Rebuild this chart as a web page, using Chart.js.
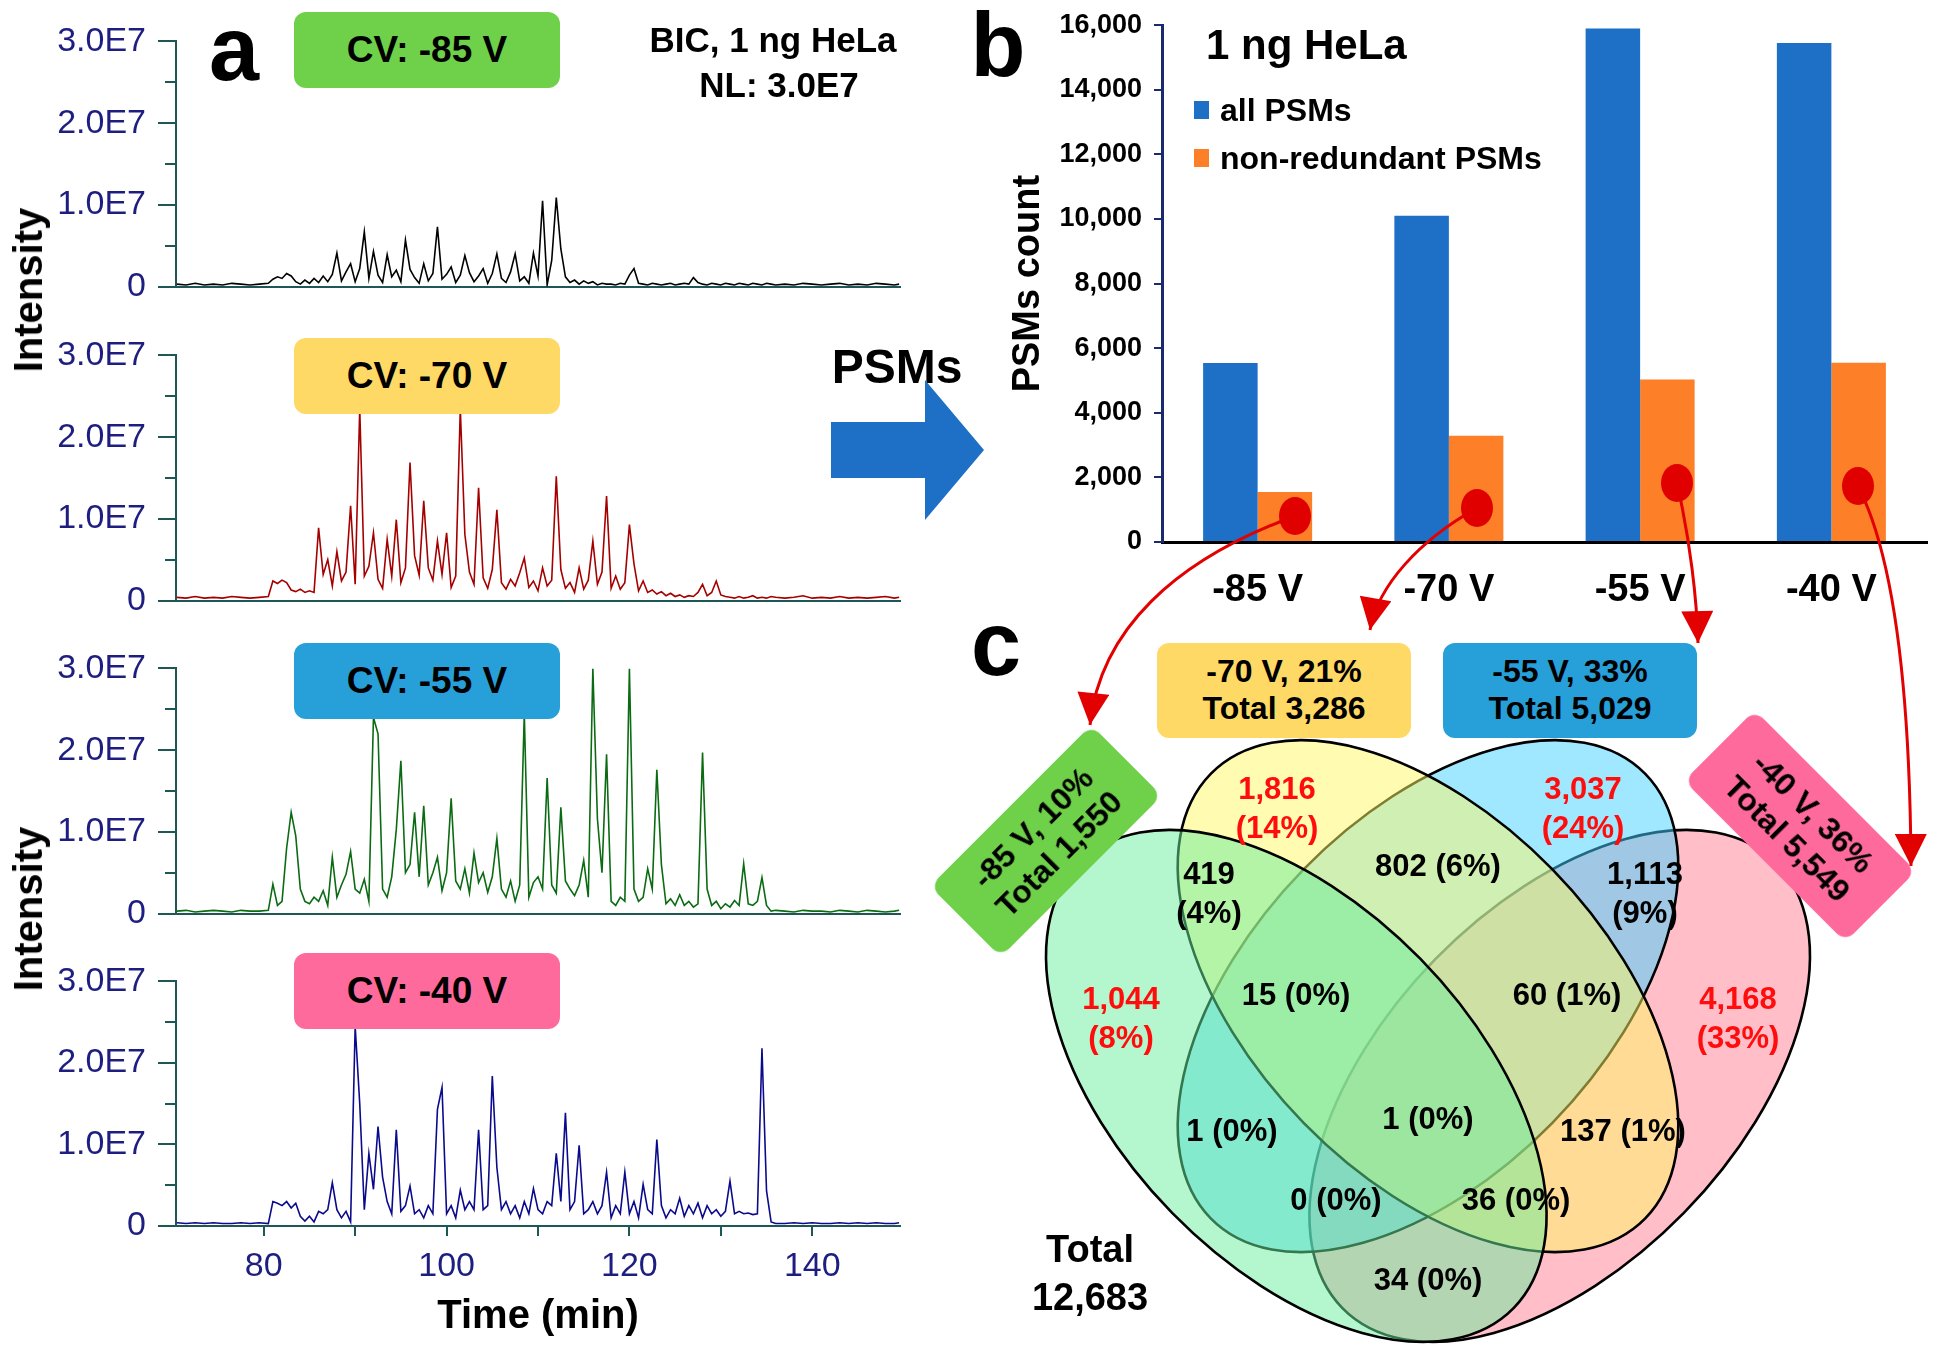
<!DOCTYPE html>
<html>
<head>
<meta charset="utf-8">
<script src="https://cdn.jsdelivr.net/npm/chart.js@4.4.1/dist/chart.umd.min.js"></script>
<style>
html,body{margin:0;padding:0;background:#fff;}
#page{position:relative;width:1939px;height:1350px;overflow:hidden;background:#fff;font-family:"Liberation Sans",Arial,Helvetica,sans-serif;}
#page canvas{position:absolute;}
.t{position:absolute;white-space:nowrap;font-weight:bold;color:#000;text-align:center;line-height:1.15;}
.box{position:absolute;display:flex;flex-direction:column;align-items:center;justify-content:center;text-align:center;font-weight:bold;border-radius:12px;line-height:1.15;color:#000;white-space:nowrap;}
#ov{position:absolute;left:0;top:0;pointer-events:none;}
</style>
</head>
<body>
<div id="page">
  <canvas id="tr0"></canvas>
  <canvas id="tr1"></canvas>
  <canvas id="tr2"></canvas>
  <canvas id="tr3"></canvas>
  <canvas id="bar"></canvas>
  <canvas id="venn"></canvas>
</div>
<script>
// ---------------- DATA ----------------
// retention time grid (min)
const timeMin = [
 70.5,71.5,72.5,73.5,74.5,75.5,76.5,77.5,78.5,79.5,80.5,
 81,81.5,82,82.5,83,83.5,84,84.5,85,85.5,86,86.5,87,87.5,88,88.5,89,89.5,90,90.5,
 91,91.5,92,92.5,93,93.5,94,94.5,95,95.5,96,96.5,97,97.5,98,98.5,99,99.5,100,100.5,
 101,101.5,102,102.5,103,103.5,104,104.5,105,105.5,106,106.5,107,107.5,108,108.5,109,109.5,110,110.5,
 111,111.5,112,112.5,113,113.5,114,114.5,115,115.5,116,116.5,117,117.5,118,118.5,119,119.5,120,120.5,
 121,121.5,122,122.5,123,123.5,124,124.5,125,125.5,126,126.5,127,127.5,128,128.5,129,129.5,130,130.5,
 131,131.5,132,132.5,133,133.5,134,134.5,135,135.5,136,
 137,138,139,140,141,142,143,144,145,146,147,148,149,149.5
];
// base peak intensity, in units of 1E6
const intensityCV85 = [
 0.3,0.2,0.4,0.2,0.3,0.2,0.4,0.3,0.2,0.3,0.4,
 0.9,1.2,1.0,1.6,1.3,0.6,0.3,0.8,0.4,1.0, 0.5,1.3,0.6,1.5,4.1,0.7,1.8,2.8,0.6,2.2,
 6.7,1.0,4.3,1.4,0.5,3.9,1.2,2.0,0.6,5.7, 2.1,1.1,0.4,2.8,0.7,1.6,7.3,0.9,1.5,2.4,
 0.5,1.4,3.8,1.7,0.6,1.3,2.2,0.4,1.6,4.0, 1.0,0.5,1.8,4.0,0.7,1.2,0.4,4.1,1.3,10.5,
 0.2,3.2,10.9,4.6,1.2,0.5,0.8,0.3,0.7,0.4, 0.6,0.2,0.4,0.3,0.3,0.2,0.4,0.3,1.4,2.2,
 0.4,0.3,0.2,0.4,0.3,0.2,0.3,0.4,0.2,0.3, 0.4,0.3,1.1,0.5,0.3,0.2,0.4,0.3,0.2,0.4,
 0.3,0.2,0.4,0.3,0.2,0.4,0.3,0.2,0.4,0.3,0.2,
 0.3,0.2,0.4,0.3,0.2,0.3,0.4,0.2,0.3,0.2,0.4,0.3,0.2,0.3
];
const intensityCV70 = [
 0.4,0.3,0.5,0.3,0.4,0.3,0.5,0.4,0.3,0.4,0.5,
 2.4,2.1,2.5,2.2,1.3,1.1,1.4,1.0,1.2,1.0, 8.9,3.2,5.0,1.8,6.0,2.4,3.5,11.6,2.0,23.5,
 3.0,4.2,8.3,2.6,1.5,7.5,3.0,9.9,2.2,4.0, 16.9,5.5,3.1,12.2,4.0,2.5,7.3,3.2,8.3,1.6,
 3.0,23.5,8.1,3.5,2.0,13.8,2.8,1.5,3.8,11.1, 2.2,1.4,2.6,1.8,3.4,5.2,1.6,2.4,1.2,4.0,
 1.8,2.5,15.2,3.8,1.5,2.2,1.0,4.0,1.4,2.5, 7.3,2.0,3.5,12.8,1.5,3.0,1.4,2.2,9.3,4.5,
 1.2,2.4,1.0,1.3,0.8,1.1,0.6,0.9,0.5,0.7, 0.4,0.6,0.5,1.0,2.0,0.6,1.0,2.4,0.7,0.5,
 0.4,0.3,0.5,0.3,0.4,0.6,0.3,0.4,0.3,0.5,0.4,
 0.3,0.4,0.6,0.3,0.4,0.3,0.5,0.3,0.4,0.3,0.4,0.5,0.3,0.4
];
const intensityCV55 = [
 0.3,0.4,0.2,0.3,0.4,0.3,0.2,0.4,0.3,0.3,0.4,
 3.6,1.0,1.5,8.0,12.4,9.5,3.0,1.5,1.2,2.0, 1.5,2.8,1.0,6.9,2.0,3.5,4.8,7.6,3.0,2.5,
 4.2,1.5,24.0,22.0,3.0,2.0,4.5,10.3,18.7,5.0, 6.0,12.4,4.5,13.2,3.5,5.0,6.9,2.8,5.0,14.1,
 4.0,3.0,5.5,2.5,7.4,3.8,5.0,2.6,4.5,9.2, 3.0,2.0,4.0,1.5,3.5,24.5,2.0,3.8,4.5,3.0,
 16.6,3.5,2.5,13.0,4.0,3.0,2.2,3.5,6.5,2.0, 30.0,11.6,5.0,19.5,1.5,1.0,2.0,1.5,30.0,3.0,
 1.5,2.0,5.5,3.0,17.6,6.0,1.2,1.8,1.0,2.3, 1.0,1.5,0.8,1.2,19.7,3.0,1.0,1.5,0.6,1.2,
 0.8,1.6,1.0,6.1,1.2,1.0,1.5,4.4,1.0,0.3,0.4,
 0.3,0.2,0.4,0.3,0.3,0.2,0.4,0.3,0.2,0.4,0.3,0.2,0.3,0.4
];
const intensityCV40 = [
 0.4,0.3,0.4,0.3,0.4,0.3,0.3,0.4,0.3,0.4,0.3,
 3.0,2.8,2.5,3.0,2.2,2.8,1.2,0.6,1.2,0.5, 1.8,1.5,2.0,5.3,2.0,1.0,1.8,0.5,24.5,15.0,
 2.0,8.9,4.5,12.2,6.0,3.0,1.5,11.8,1.8,2.5, 4.9,1.5,2.0,1.0,2.5,1.5,14.3,17.0,1.5,2.5,
 1.0,4.4,2.0,3.0,2.0,11.8,2.0,2.5,18.4,7.2, 2.0,3.0,1.5,2.5,1.0,3.0,1.5,4.6,2.0,1.5,
 3.0,2.5,8.9,3.0,13.9,2.0,3.0,9.9,1.5,2.0, 3.0,1.5,2.5,6.6,1.0,2.5,1.5,6.6,1.5,3.0,
 1.0,5.1,2.0,1.5,10.6,2.5,1.0,2.0,1.5,3.4, 1.2,2.5,1.5,2.8,1.0,2.5,1.5,2.0,1.2,1.8,
 5.5,1.5,1.8,1.5,1.6,1.4,1.5,21.8,4.3,0.5,0.3,
 0.3,0.4,0.3,0.4,0.3,0.3,0.4,0.3,0.4,0.3,0.4,0.3,0.3,0.4
];
const intensityTickValues = [0, 10, 20, 30];
const intensityTickLabels = ['0', '1.0E7', '2.0E7', '3.0E7'];
const intensityMinorTicks = [5, 15, 25];
const timeTickValues = [80, 90, 100, 110, 120, 130, 140];
const timeTickLabels = ['80', '', '100', '', '120', '', '140'];

// panel b
const cvLabels = ['-85 V', '-70 V', '-55 V', '-40 V'];
const seriesNames = ['all PSMs', 'non-redundant PSMs'];
const allPSMs = [5540, 10100, 15900, 15450];
const nonRedundantPSMs = [1550, 3286, 5029, 5549];
const psmTickValues = [0, 2000, 4000, 6000, 8000, 10000, 12000, 14000, 16000];
const psmTickLabels = ['0', '2,000', '4,000', '6,000', '8,000', '10,000', '12,000', '14,000', '16,000'];

// panel c (Venn)
const vennSetPercent = [10, 21, 33, 36];
const vennSetTotals = [1550, 3286, 5029, 5549];
const vennRegionCounts = [1044, 1816, 3037, 4168, 419, 802, 1113, 15, 60, 1, 1, 137, 0, 36, 34];
const vennRegionPercent = [8, 14, 24, 33, 4, 6, 9, 0, 1, 0, 0, 1, 0, 0, 0];
const vennTotal = 12683;

// ---------------- LAYOUT / STYLE ----------------
const FONT = '"Liberation Sans", Arial, Helvetica, sans-serif';
Chart.defaults.font.family = FONT;
Chart.defaults.animation = false;
const TEAL = '#1e5856';
const TICKTXT = '#1e1e80';
const traceColors = ['#000000', '#a50000', '#0b6b12', '#0a0a8c'];
const traceTops = [41, 355, 668, 981];   // pixel of 3.0E7 on each panel
const tracePlotH = 245;
const cvBoxColors = ['#6fd04a', '#ffd966', '#27a0da', '#ff6a9c'];
const cvBoxTops = [12, 338, 643, 953];
const BLUE = '#1e6fc6';
const ORANGE = '#fd7f28';
const NAVY = '#1b2a6e';

const page = document.getElementById('page');

// build a chart, then rebuild it so that its plot area lands exactly on the wanted box
function placeChart(cv, makeConfig, box) {
  cv.width = box.w0; cv.height = box.h0;
  let ch = new Chart(cv, makeConfig());
  const ca = ch.chartArea;
  const offT = ca.top, offB = box.h0 - ca.bottom, offL = ca.left, offR = box.w0 - ca.right;
  ch.destroy();
  cv.width = Math.round(offL + (box.right - box.left) + offR);
  cv.height = Math.round(offT + (box.bottom - box.top) + offB);
  ch = new Chart(cv, makeConfig());
  cv.style.left = Math.round(box.left - ch.chartArea.left) + 'px';
  cv.style.top = Math.round(box.top - ch.chartArea.top) + 'px';
  return ch;
}

const minorTickPlugin = {
  id: 'minorTicks',
  afterDraw(chart) {
    const y = chart.scales.y, ctx = chart.ctx;
    ctx.save(); ctx.strokeStyle = TEAL; ctx.lineWidth = 2;
    intensityMinorTicks.forEach(v => {
      const py = Math.round(y.getPixelForValue(v));
      ctx.beginPath(); ctx.moveTo(y.right - 11, py); ctx.lineTo(y.right, py); ctx.stroke();
    });
    ctx.restore();
  }
};

const traces = [intensityCV85, intensityCV70, intensityCV55, intensityCV40];
traces.forEach((vals, idx) => {
  const isLast = idx === 3;
  const xh = isLast ? 115 : 22;
  const cfg = () => ({
    type: 'line',
    data: { datasets: [{
      data: timeMin.map((t, i) => ({ x: t, y: vals[i] })),
      borderColor: traceColors[idx], borderWidth: 1.6, pointRadius: 0, fill: false, tension: 0
    }] },
    options: {
      responsive: false, maintainAspectRatio: false, animation: false,
      layout: { padding: { top: 0, right: 30, left: 0, bottom: 0 } },
      plugins: { legend: { display: false }, tooltip: { enabled: false } },
      scales: {
        x: {
          type: 'linear', min: 70.4, max: 149.6,
          afterFit: s => { s.height = xh; },
          afterBuildTicks: s => { s.ticks = timeTickValues.map(v => ({ value: v })); },
          ticks: { display: isLast, autoSkip: false, maxRotation: 0, font: { size: 34 }, color: TICKTXT, padding: 10,
                   callback: (v, i) => timeTickLabels[i] },
          grid: { drawOnChartArea: false, drawTicks: isLast, tickLength: 10, color: TEAL, lineWidth: 2 },
          border: { display: true, color: TEAL, width: 2 },
          title: { display: isLast, text: 'Time (min)', font: { size: 40, weight: 'bold' }, color: '#000', padding: 0 }
        },
        y: {
          min: 0, max: 30,
          afterFit: s => { s.width = 176; },
          afterBuildTicks: s => { s.ticks = intensityTickValues.map(v => ({ value: v })); },
          ticks: { autoSkip: false, font: { size: 34 }, color: TICKTXT, padding: 12,
                   callback: (v, i) => intensityTickLabels[i] },
          grid: { drawOnChartArea: false, tickLength: 18, color: TEAL, lineWidth: 2 },
          border: { color: TEAL, width: 2 }
        }
      }
    },
    plugins: [minorTickPlugin]
  });
  placeChart(document.getElementById('tr' + idx), cfg,
    { w0: 930, h0: 330 + xh, left: 176, right: 900, top: traceTops[idx], bottom: traceTops[idx] + tracePlotH });
});

// ---------- bar chart ----------
placeChart(document.getElementById('bar'), () => ({
  type: 'bar',
  data: {
    labels: cvLabels,
    datasets: [
      { label: seriesNames[0], data: allPSMs, backgroundColor: BLUE, borderWidth: 0 },
      { label: seriesNames[1], data: nonRedundantPSMs, backgroundColor: ORANGE, borderWidth: 0 }
    ]
  },
  options: {
    responsive: false, maintainAspectRatio: false, animation: false,
    datasets: { bar: { categoryPercentage: 0.57, barPercentage: 1.0 } },
    layout: { padding: { top: 0, right: 12, left: 0, bottom: 0 } },
    plugins: { legend: { display: false }, tooltip: { enabled: false } },
    scales: {
      x: {
        afterFit: s => { s.height = 80; },
        ticks: { font: { size: 38, weight: 'bold' }, color: '#000', padding: 26 },
        grid: { drawOnChartArea: false, drawTicks: false, color: 'rgba(0,0,0,0)' },
        border: { display: true, color: '#000', width: 3 }
      },
      y: {
        min: 0, max: 16000,
        afterFit: s => { s.width = 156; },
        afterBuildTicks: s => { s.ticks = psmTickValues.map(v => ({ value: v })); },
        ticks: { autoSkip: false, font: { size: 27, weight: 'bold' }, color: '#000', padding: 12,
                 callback: (v, i) => psmTickLabels[i] },
        grid: { drawOnChartArea: false, tickLength: 8, color: NAVY, lineWidth: 2 },
        border: { color: NAVY, width: 3 },
        title: { display: true, text: 'PSMs count', font: { size: 38, weight: 'bold' }, color: '#000', padding: 0 }
      }
    }
  }
}), { w0: 933, h0: 620, left: 1162, right: 1927, top: 25, bottom: 542 });

// ---------- Venn chart ----------
const VENN = { x0: 989, sx: 878, y0: 610, sy: 898, left: 960, top: 600, w: 979, h: 750 };
const vennShapes = [ // drawn in this order; strokeNow = outline drawn before later fills
  { key: 'D', cx: 0.65, cy: 0.53, a: 0.35, b: 0.2, rot: -Math.PI / 4, fill: 'rgba(255,125,145,0.5)', strokeNow: true },
  { key: 'C', cx: 0.50, cy: 0.43, a: 0.35, b: 0.2, rot: -Math.PI / 4, fill: 'rgba(65,209,255,0.5)', strokeNow: true },
  { key: 'B', cx: 0.50, cy: 0.43, a: 0.35, b: 0.2, rot: Math.PI / 4, fill: 'rgba(255,249,101,0.5)', strokeNow: true },
  { key: 'A', cx: 0.35, cy: 0.53, a: 0.35, b: 0.2, rot: Math.PI / 4, fill: 'rgba(105,237,155,0.5)', strokeNow: false }
];
const vennPlugin = {
  id: 'vennEllipses',
  afterDraw(chart) {
    const xs = chart.scales.x, ys = chart.scales.y, ctx = chart.ctx;
    const ox = xs.getPixelForValue(0), oy = ys.getPixelForValue(0);
    const kx = xs.getPixelForValue(1) - ox, ky = ys.getPixelForValue(1) - oy;
    const path = e => {
      ctx.save(); ctx.translate(ox, oy); ctx.scale(kx, ky);
      ctx.beginPath(); ctx.ellipse(e.cx, e.cy, e.a, e.b, e.rot, 0, Math.PI * 2);
      ctx.restore();
    };
    ctx.save();
    ctx.lineWidth = 2.6; ctx.strokeStyle = '#000';
    vennShapes.forEach(e => {
      path(e); ctx.fillStyle = e.fill; ctx.fill();
      if (e.strokeNow) ctx.stroke();
    });
    vennShapes.forEach(e => { if (!e.strokeNow) { path(e); ctx.stroke(); } });
    ctx.restore();
  }
};
(function () {
  const cv = document.getElementById('venn');
  cv.width = VENN.w; cv.height = VENN.h;
  cv.style.left = VENN.left + 'px'; cv.style.top = VENN.top + 'px';
  new Chart(cv, {
    type: 'scatter',
    data: { datasets: [] },
    options: {
      responsive: false, maintainAspectRatio: false, animation: false,
      layout: { padding: 0 },
      plugins: { legend: { display: false }, tooltip: { enabled: false } },
      scales: {
        x: { type: 'linear', display: false, min: (VENN.left - VENN.x0) / VENN.sx, max: (VENN.left + VENN.w - VENN.x0) / VENN.sx },
        y: { type: 'linear', display: false, reverse: true, min: (VENN.top - VENN.y0) / VENN.sy, max: (VENN.top + VENN.h - VENN.y0) / VENN.sy }
      }
    },
    plugins: [vennPlugin]
  });
})();

// ---------------- TEXT / ANNOTATIONS ----------------
function addText(lines, x, y, size, opts) {
  opts = opts || {};
  const d = document.createElement('div');
  d.className = 't';
  lines.forEach((ln, i) => { if (i) d.appendChild(document.createElement('br')); d.appendChild(document.createTextNode(ln)); });
  d.style.left = x + 'px'; d.style.top = y + 'px';
  d.style.fontSize = size + 'px';
  if (opts.color) d.style.color = opts.color;
  if (opts.lh) d.style.lineHeight = opts.lh;
  const rot = opts.rotate ? ` rotate(${opts.rotate}deg)` : '';
  d.style.transform = (opts.left ? 'translate(0,-50%)' : 'translate(-50%,-50%)') + rot;
  page.appendChild(d);
  return d;
}
function addBox(lines, cx, cy, w, h, bg, size, rot) {
  const d = document.createElement('div');
  d.className = 'box';
  lines.forEach(ln => { const s = document.createElement('div'); s.textContent = ln; d.appendChild(s); });
  d.style.left = (cx - w / 2) + 'px'; d.style.top = (cy - h / 2) + 'px';
  d.style.width = w + 'px'; d.style.height = h + 'px';
  d.style.background = bg; d.style.fontSize = size + 'px';
  if (rot) d.style.transform = `rotate(${rot}deg)`;
  page.appendChild(d);
}
const fmt = n => n.toLocaleString('en-US');

// panel letters
addText(['a'], 234, 50, 90);
addText(['b'], 998, 46, 90);
addText(['c'], 996, 645, 90);

// panel a annotations
cvLabels.forEach((lab, i) => addBox(['CV: ' + lab], 427, cvBoxTops[i] + 38, 266, 76, cvBoxColors[i], 37));
addText(['BIC, 1 ng HeLa'], 773, 40, 35);
addText(['NL: 3.0E7'], 779, 85, 35);
addText(['Intensity'], 28, 290, 40, { rotate: -90 });
addText(['Intensity'], 28, 909, 40, { rotate: -90 });

// panel b annotations
addText(['1 ng HeLa'], 1206, 45, 42, { left: true });
[BLUE, ORANGE].forEach((c, i) => {
  const sq = document.createElement('div');
  sq.style.cssText = `position:absolute;left:1194px;top:${101 + i * 48}px;width:15px;height:18px;background:${c};`;
  page.appendChild(sq);
  addText([seriesNames[i]], 1220, 110 + i * 48, 32, { left: true });
});
addText(['PSMs'], 897, 367, 48);

// panel c set boxes
addBox([`${cvLabels[1]}, ${vennSetPercent[1]}%`, `Total ${fmt(vennSetTotals[1])}`], 1284, 690, 254, 95, cvBoxColors[1], 32);
addBox([`${cvLabels[2]}, ${vennSetPercent[2]}%`, `Total ${fmt(vennSetTotals[2])}`], 1570, 690, 254, 95, cvBoxColors[2], 32);
addBox([`${cvLabels[0]}, ${vennSetPercent[0]}%`, `Total ${fmt(vennSetTotals[0])}`], 1046, 841, 228, 100, cvBoxColors[0], 32, -45);
addBox([`${cvLabels[3]}, ${vennSetPercent[3]}%`, `Total ${fmt(vennSetTotals[3])}`], 1800, 826, 228, 100, cvBoxColors[3], 32, 45);

// Venn region labels: [x, y, twoLines]
const vennLabelPos = [
  [1121, 1019, true], [1277, 809, true], [1583, 809, true], [1738, 1019, true],
  [1209, 894, true], [1438, 866, false], [1645, 894, true],
  [1296, 995, false], [1567, 995, false],
  [1232, 1131, false], [1428, 1119, false], [1623, 1131, false],
  [1336, 1200, false], [1516, 1200, false], [1428, 1280, false]
];
vennRegionCounts.forEach((n, i) => {
  const p = vennLabelPos[i];
  const a = fmt(n), b = `(${vennRegionPercent[i]}%)`;
  addText(p[2] ? [a, b] : [a + ' ' + b], p[0], p[1], 31, { color: i < 4 ? '#ff0d0d' : '#000', lh: 1.25 });
});
addText(['Total', fmt(vennTotal)], 1090, 1273, 38, { lh: 1.25 });

// overlay: PSMs block arrow, red dots and curved arrows
const svgNS = 'http://www.w3.org/2000/svg';
const ov = document.createElementNS(svgNS, 'svg');
ov.setAttribute('id', 'ov'); ov.setAttribute('width', 1939); ov.setAttribute('height', 1350);
ov.innerHTML = `
<defs><marker id="ah" viewBox="0 0 10 10" refX="10" refY="5" markerUnits="userSpaceOnUse" markerWidth="36" markerHeight="32" orient="auto">
<path d="M0,0 L10,5 L0,10 z" fill="#e30000"/></marker></defs>
<polygon points="831,422 925,422 925,380 984,450 925,520 925,478 831,478" fill="${BLUE}"/>
<g fill="none" stroke="#e30000" stroke-width="3">
<path d="M1295,516 C1175,560 1100,630 1090,725" marker-end="url(#ah)"/>
<path d="M1477,508 C1420,540 1378,585 1370,630" marker-end="url(#ah)"/>
<path d="M1677,483 C1690,540 1697,600 1698,643" marker-end="url(#ah)"/>
<path d="M1858,486 C1896,560 1910,700 1911,866" marker-end="url(#ah)"/>
</g>
<g fill="#e00000">
<ellipse cx="1295" cy="516" rx="16" ry="19"/>
<ellipse cx="1477" cy="508" rx="16" ry="19"/>
<ellipse cx="1677" cy="483" rx="16" ry="19"/>
<ellipse cx="1858" cy="486" rx="16" ry="19"/>
</g>`;
page.appendChild(ov);
</script>
</body>
</html>
